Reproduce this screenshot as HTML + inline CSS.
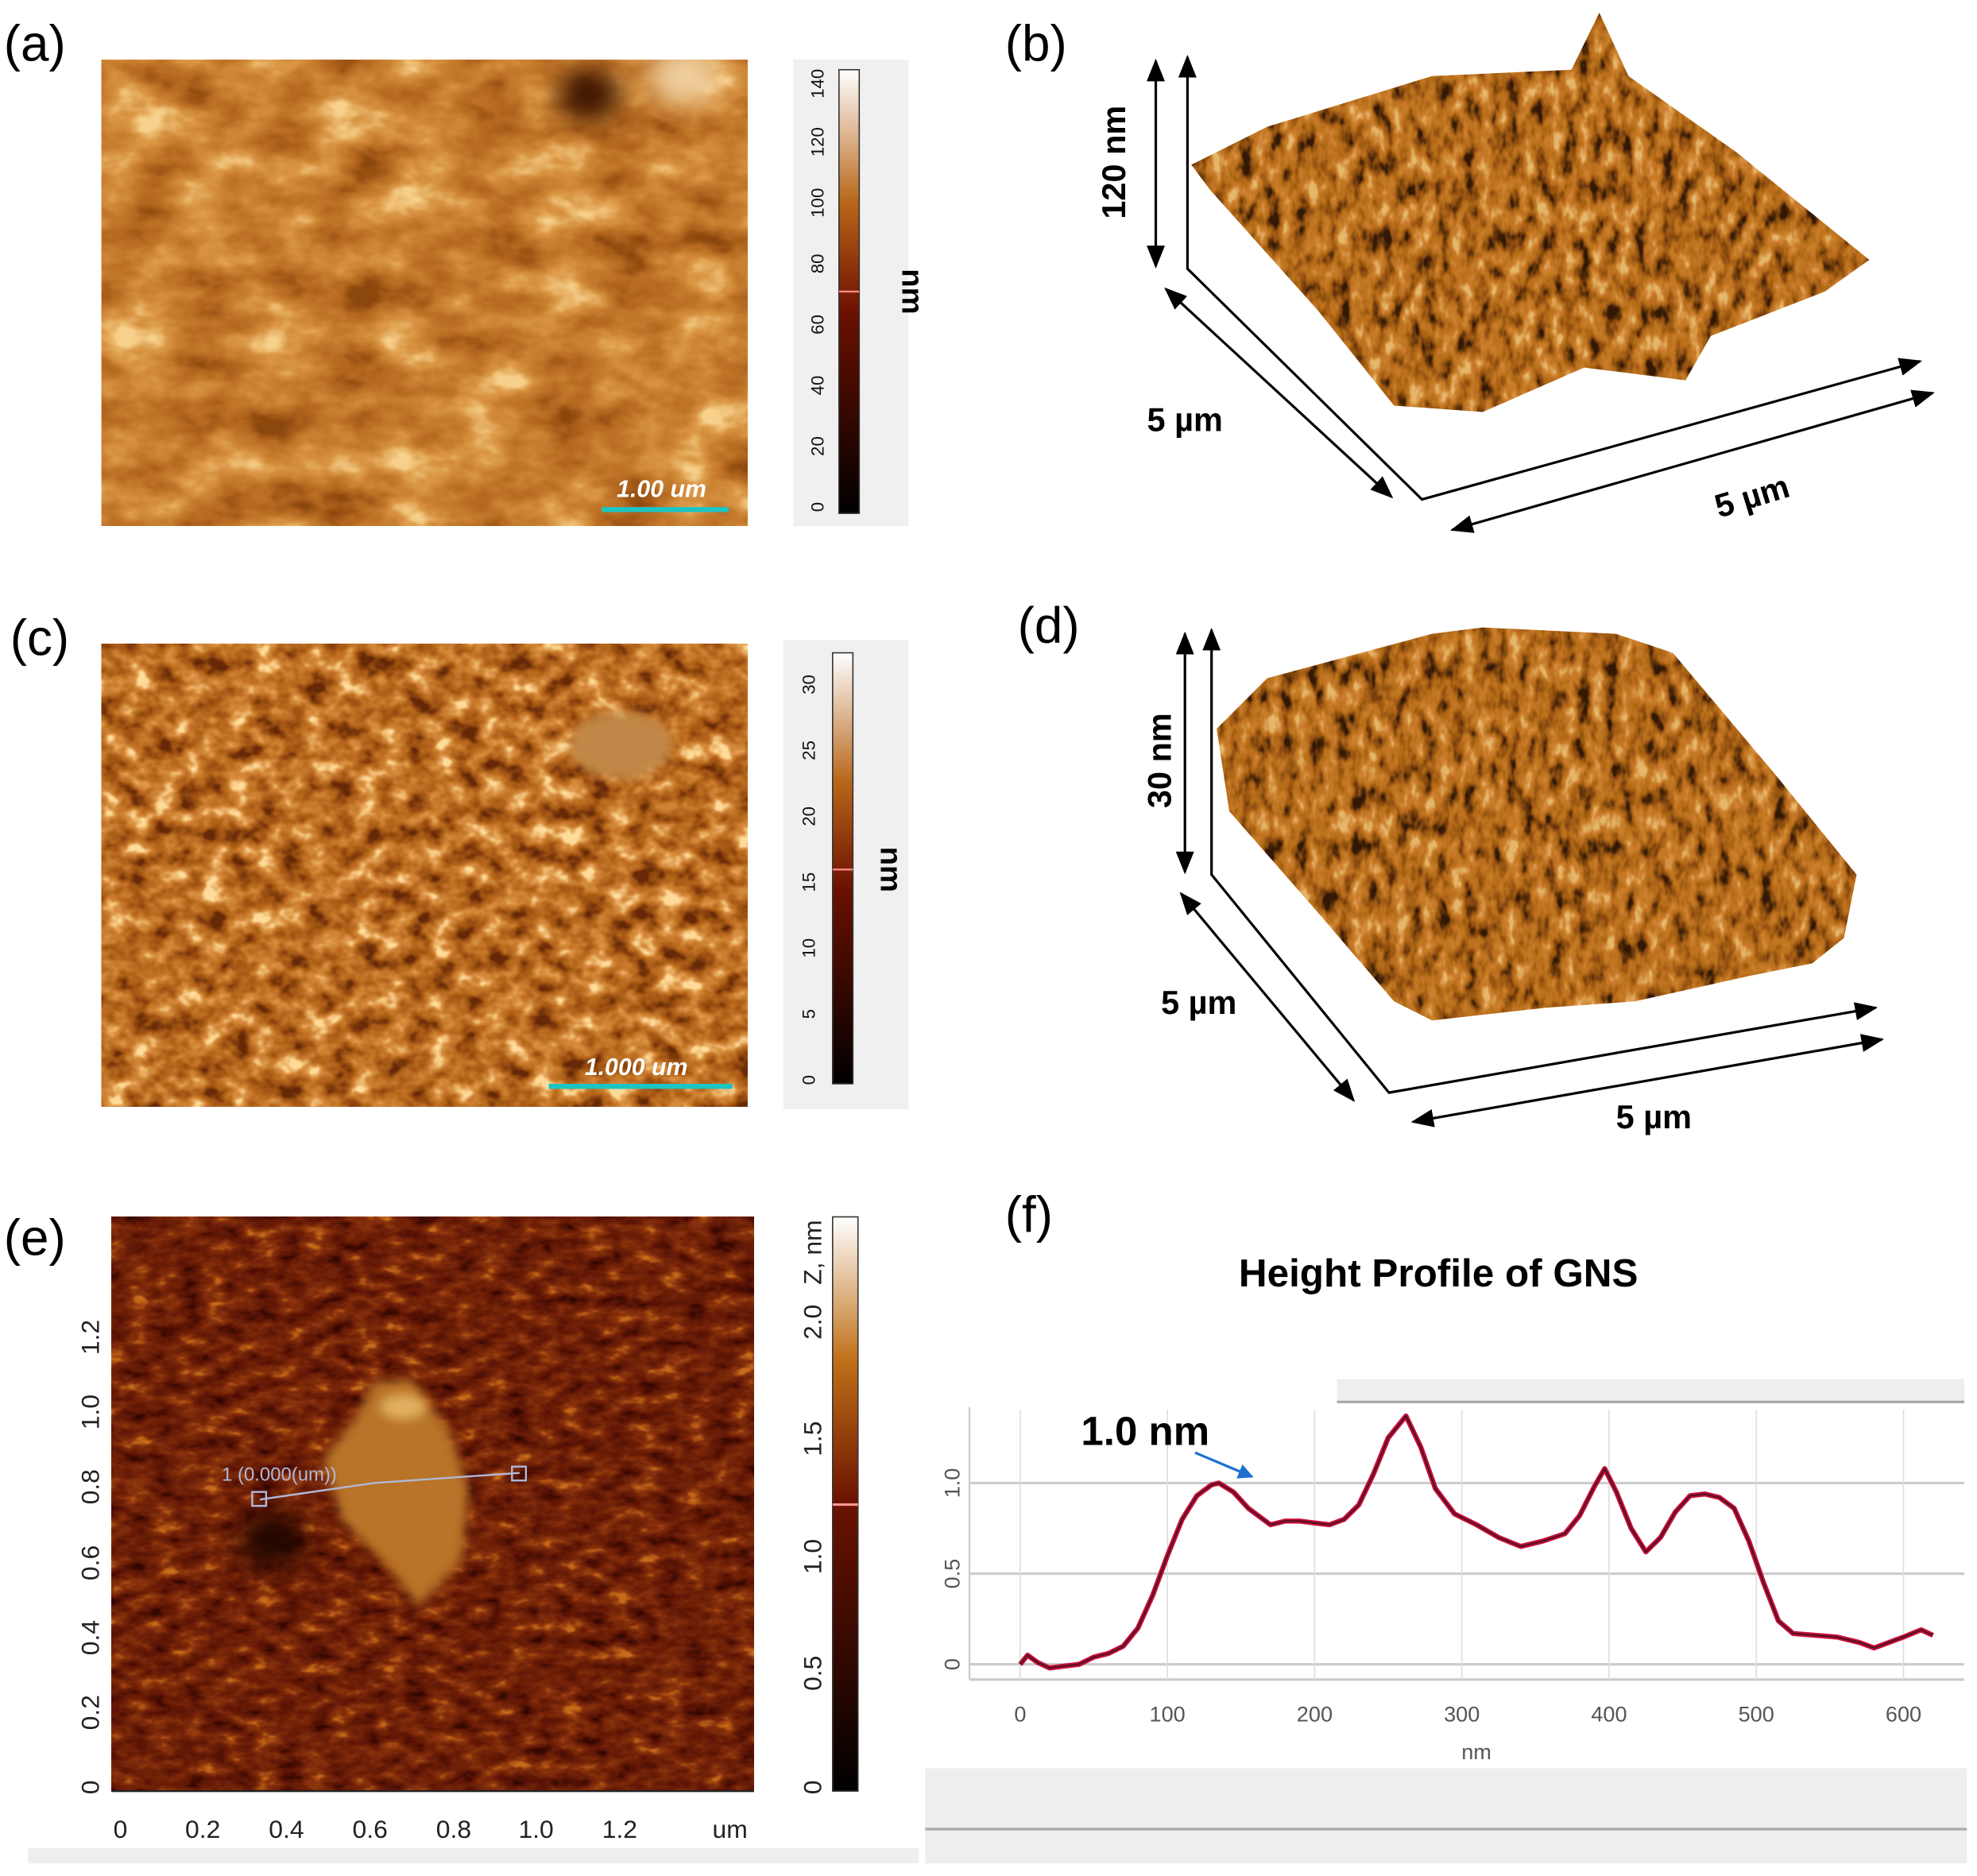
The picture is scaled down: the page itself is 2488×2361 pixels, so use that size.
<!DOCTYPE html>
<html><head><meta charset="utf-8"><style>
html,body{margin:0;padding:0;background:#fff;}
svg{display:block;}
text{font-family:"Liberation Sans",sans-serif;}
filter{color-interpolation-filters:sRGB;}
</style></head><body>
<svg width="2488" height="2361" viewBox="0 0 1560 1480" preserveAspectRatio="none" xmlns="http://www.w3.org/2000/svg">
<defs>
<filter id="afmA" x="0" y="0" width="100%" height="100%" color-interpolation-filters="sRGB">
<feTurbulence type="fractalNoise" baseFrequency="0.018 0.03" numOctaves="4" seed="3"/>
<feColorMatrix type="matrix" values="1 0 0 0 0 1 0 0 0 0 1 0 0 0 0 0 0 0 0 1"/>
<feComponentTransfer><feFuncR type="linear" slope="1.6" intercept="-0.3"/><feFuncG type="linear" slope="1.6" intercept="-0.3"/><feFuncB type="linear" slope="1.6" intercept="-0.3"/></feComponentTransfer>
<feComponentTransfer><feFuncR type="table" tableValues="0.55 0.7 0.78 0.86 0.97"/><feFuncG type="table" tableValues="0.28 0.4 0.49 0.6 0.82"/><feFuncB type="table" tableValues="0.05 0.12 0.18 0.28 0.55"/><feFuncA type="table" tableValues="1 1"/></feComponentTransfer>
</filter>
<filter id="afmC" x="0" y="0" width="100%" height="100%" color-interpolation-filters="sRGB">
<feTurbulence type="fractalNoise" baseFrequency="0.05 0.06" numOctaves="3" seed="7"/>
<feColorMatrix type="matrix" values="1 0 0 0 0 1 0 0 0 0 1 0 0 0 0 0 0 0 0 1"/>
<feComponentTransfer><feFuncR type="linear" slope="1.8" intercept="-0.4"/><feFuncG type="linear" slope="1.8" intercept="-0.4"/><feFuncB type="linear" slope="1.8" intercept="-0.4"/></feComponentTransfer>
<feComponentTransfer><feFuncR type="table" tableValues="0.4 0.62 0.74 0.85 1"/><feFuncG type="table" tableValues="0.16 0.32 0.43 0.56 0.86"/><feFuncB type="table" tableValues="0.03 0.07 0.13 0.25 0.6"/><feFuncA type="table" tableValues="1 1"/></feComponentTransfer>
</filter>
<filter id="afmE" x="0" y="0" width="100%" height="100%" color-interpolation-filters="sRGB">
<feTurbulence type="fractalNoise" baseFrequency="0.05 0.09" numOctaves="3" seed="11"/>
<feColorMatrix type="matrix" values="1 0 0 0 0 1 0 0 0 0 1 0 0 0 0 0 0 0 0 1"/>
<feComponentTransfer><feFuncR type="linear" slope="1.5" intercept="-0.25"/><feFuncG type="linear" slope="1.5" intercept="-0.25"/><feFuncB type="linear" slope="1.5" intercept="-0.25"/></feComponentTransfer>
<feComponentTransfer><feFuncR type="table" tableValues="0.2 0.36 0.44 0.54 0.78"/><feFuncG type="table" tableValues="0.03 0.08 0.13 0.2 0.42"/><feFuncB type="table" tableValues="0 0.02 0.03 0.05 0.1"/><feFuncA type="table" tableValues="1 1"/></feComponentTransfer>
</filter>
<filter id="afm3d" x="0" y="0" width="100%" height="100%" color-interpolation-filters="sRGB">
<feTurbulence type="fractalNoise" baseFrequency="0.09 0.05" numOctaves="3" seed="5"/>
<feColorMatrix type="matrix" values="1 0 0 0 0 1 0 0 0 0 1 0 0 0 0 0 0 0 0 1"/>
<feComponentTransfer><feFuncR type="linear" slope="1.8" intercept="-0.4"/><feFuncG type="linear" slope="1.8" intercept="-0.4"/><feFuncB type="linear" slope="1.8" intercept="-0.4"/></feComponentTransfer>
<feComponentTransfer><feFuncR type="table" tableValues="0.2 0.55 0.72 0.8 0.9"/><feFuncG type="table" tableValues="0.1 0.3 0.43 0.5 0.72"/><feFuncB type="table" tableValues="0.02 0.06 0.1 0.18 0.42"/><feFuncA type="table" tableValues="1 1"/></feComponentTransfer>
</filter>
<filter id="blur6" x="-100%" y="-100%" width="300%" height="300%"><feGaussianBlur stdDeviation="10"/></filter>
<filter id="blur3" x="-50%" y="-50%" width="200%" height="200%"><feGaussianBlur stdDeviation="4"/></filter>
<linearGradient id="cbA" x1="0" y1="1" x2="0" y2="0"><stop offset="0" stop-color="#000"/><stop offset="0.45" stop-color="#6a1000"/><stop offset="0.7" stop-color="#b8661a"/><stop offset="1" stop-color="#fff"/></linearGradient>
<linearGradient id="cbE" x1="0" y1="1" x2="0" y2="0"><stop offset="0" stop-color="#000"/><stop offset="0.5" stop-color="#6a1200"/><stop offset="0.75" stop-color="#c07018"/><stop offset="1" stop-color="#fff"/></linearGradient>
<clipPath id="clipB"><polygon points="940,130 1000,100 1130,60 1240,55 1262,10 1285,60 1370,120 1475,205 1440,230 1350,265 1330,300 1250,290 1170,325 1100,320 1040,245 955,150"/></clipPath>
<clipPath id="clipD"><polygon points="960,575 1000,535 1130,500 1170,495 1275,500 1320,515 1400,610 1465,690 1455,740 1430,760 1380,770 1290,790 1220,795 1130,805 1100,790 1040,720 970,640"/></clipPath>
<marker id="ah" viewBox="0 0 10 10" refX="9" refY="5" markerWidth="9" markerHeight="9" orient="auto-start-reverse"><path d="M0,1 L10,5 L0,9 z" fill="#000"/></marker>
<marker id="ahB" viewBox="0 0 10 10" refX="9" refY="5" markerWidth="6" markerHeight="6" orient="auto"><path d="M0,0 L10,5 L0,10 z" fill="#1f6fd0"/></marker>
</defs>

<g font-size="40">
<text x="3" y="48">(a)</text>
<text x="793" y="48">(b)</text>
<text x="8" y="517">(c)</text>
<text x="803" y="507">(d)</text>
<text x="3" y="990">(e)</text>
<text x="793" y="972">(f)</text>
</g>

<g>
<svg x="80" y="47" width="510" height="368" overflow="hidden">
<rect x="0" y="0" width="510" height="368" filter="url(#afmA)"/>
<ellipse cx="385" cy="28" rx="25" ry="20" fill="#3a1500" filter="url(#blur6)"/>
<ellipse cx="460" cy="13" rx="28" ry="22" fill="#f0d0a0" filter="url(#blur6)"/>
</svg>
<line x1="475" y1="402" x2="575" y2="402" stroke="#1cc4c4" stroke-width="4"/>
<text x="522" y="392" fill="#fff" font-size="19" font-weight="bold" font-style="italic" text-anchor="middle">1.00 um</text>
</g>
<g>
<rect x="626" y="47" width="91" height="368" fill="#f0f0f0"/>
<rect x="662" y="55" width="16" height="350" fill="url(#cbA)" stroke="#333" stroke-width="1"/>
<line x1="662" y1="230" x2="678" y2="230" stroke="#f88" stroke-width="1.5"/>
<g font-size="14" fill="#111">
<text transform="translate(650,400) rotate(-90)" text-anchor="middle">0</text>
<text transform="translate(650,352) rotate(-90)" text-anchor="middle">20</text>
<text transform="translate(650,304) rotate(-90)" text-anchor="middle">40</text>
<text transform="translate(650,256) rotate(-90)" text-anchor="middle">60</text>
<text transform="translate(650,208) rotate(-90)" text-anchor="middle">80</text>
<text transform="translate(650,160) rotate(-90)" text-anchor="middle">100</text>
<text transform="translate(650,112) rotate(-90)" text-anchor="middle">120</text>
<text transform="translate(650,66) rotate(-90)" text-anchor="middle">140</text>
</g>
<text transform="translate(712,230) rotate(90)" font-size="24" font-weight="bold" text-anchor="middle">nm</text>
</g>

<g>
<rect x="930" y="5" width="560" height="330" filter="url(#afm3d)" clip-path="url(#clipB)"/>
<line x1="912" y1="48" x2="912" y2="210" stroke="#000" stroke-width="2" marker-start="url(#ah)" marker-end="url(#ah)"/>
<polyline points="937,45 937,212 1122,394 1515,285" fill="none" stroke="#000" stroke-width="2" marker-start="url(#ah)" marker-end="url(#ah)"/>
<line x1="920" y1="228" x2="1098" y2="392" stroke="#000" stroke-width="2" marker-start="url(#ah)" marker-end="url(#ah)"/>
<line x1="1146" y1="418" x2="1525" y2="310" stroke="#000" stroke-width="2" marker-start="url(#ah)" marker-end="url(#ah)"/>
<text transform="translate(888,128) rotate(-90)" font-size="26" font-weight="bold" text-anchor="middle">120 nm</text>
<text x="935" y="340" font-size="26" font-weight="bold" text-anchor="middle">5 µm</text>
<text transform="translate(1385,400) rotate(-17)" font-size="26" font-weight="bold" text-anchor="middle">5 µm</text>
</g>

<g>
<rect x="80" y="508" width="510" height="365" filter="url(#afmC)"/>
<ellipse cx="490" cy="588" rx="40" ry="26" fill="#c08848" filter="url(#blur3)"/>
<line x1="433" y1="857" x2="578" y2="857" stroke="#1cc4c4" stroke-width="4"/>
<text x="502" y="848" fill="#fff" font-size="19" font-weight="bold" font-style="italic" text-anchor="middle">1.000 um</text>
</g>
<g>
<rect x="618" y="505" width="99" height="370" fill="#f0f0f0"/>
<rect x="657" y="515" width="16" height="340" fill="url(#cbA)" stroke="#333" stroke-width="1"/>
<line x1="657" y1="686" x2="673" y2="686" stroke="#f88" stroke-width="1.5"/>
<g font-size="14" fill="#111">
<text transform="translate(643,852) rotate(-90)" text-anchor="middle">0</text>
<text transform="translate(643,800) rotate(-90)" text-anchor="middle">5</text>
<text transform="translate(643,748) rotate(-90)" text-anchor="middle">10</text>
<text transform="translate(643,696) rotate(-90)" text-anchor="middle">15</text>
<text transform="translate(643,644) rotate(-90)" text-anchor="middle">20</text>
<text transform="translate(643,592) rotate(-90)" text-anchor="middle">25</text>
<text transform="translate(643,540) rotate(-90)" text-anchor="middle">30</text>
</g>
<text transform="translate(695,686) rotate(90)" font-size="24" font-weight="bold" text-anchor="middle">nm</text>
</g>

<g>
<rect x="950" y="490" width="530" height="330" filter="url(#afm3d)" clip-path="url(#clipD)"/>
<line x1="935" y1="500" x2="935" y2="688" stroke="#000" stroke-width="2" marker-start="url(#ah)" marker-end="url(#ah)"/>
<polyline points="956,497 956,690 1096,862 1480,795" fill="none" stroke="#000" stroke-width="2" marker-start="url(#ah)" marker-end="url(#ah)"/>
<line x1="932" y1="705" x2="1068" y2="868" stroke="#000" stroke-width="2" marker-start="url(#ah)" marker-end="url(#ah)"/>
<line x1="1115" y1="885" x2="1485" y2="820" stroke="#000" stroke-width="2" marker-start="url(#ah)" marker-end="url(#ah)"/>
<text transform="translate(924,600) rotate(-90)" font-size="26" font-weight="bold" text-anchor="middle">30 nm</text>
<text x="946" y="800" font-size="26" font-weight="bold" text-anchor="middle">5 µm</text>
<text x="1305" y="890" font-size="26" font-weight="bold" text-anchor="middle">5 µm</text>
</g>

<g>
<rect x="88" y="960" width="507" height="453" filter="url(#afmE)"/>
<polygon points="295,1090 325,1088 355,1130 370,1175 365,1230 330,1268 310,1240 270,1200 255,1150 280,1120" fill="#b87428" filter="url(#blur3)"/>
<ellipse cx="318" cy="1110" rx="18" ry="10" fill="#e0b060" filter="url(#blur3)"/>
<ellipse cx="215" cy="1215" rx="25" ry="22" fill="#200600" filter="url(#blur6)"/>
<polyline points="205,1183 295,1170 410,1162" fill="none" stroke="#b0b8d8" stroke-width="1.5"/>
<rect x="199" y="1177" width="11" height="11" fill="none" stroke="#b0b8d8" stroke-width="1.5"/>
<rect x="404" y="1157" width="11" height="11" fill="none" stroke="#b0b8d8" stroke-width="1.5"/>
<text x="175" y="1168" font-size="15" fill="#b0b8d8">1 (0.000(um))</text>
<line x1="88" y1="1413" x2="595" y2="1413" stroke="#222" stroke-width="1.5"/>
<g font-size="20" fill="#222">
<text x="95" y="1450" text-anchor="middle">0</text>
<text x="160" y="1450" text-anchor="middle">0.2</text>
<text x="226" y="1450" text-anchor="middle">0.4</text>
<text x="292" y="1450" text-anchor="middle">0.6</text>
<text x="358" y="1450" text-anchor="middle">0.8</text>
<text x="423" y="1450" text-anchor="middle">1.0</text>
<text x="489" y="1450" text-anchor="middle">1.2</text>
<text x="576" y="1450" text-anchor="middle">um</text>
<text transform="translate(78,1410) rotate(-90)" text-anchor="middle">0</text>
<text transform="translate(78,1351) rotate(-90)" text-anchor="middle">0.2</text>
<text transform="translate(78,1292) rotate(-90)" text-anchor="middle">0.4</text>
<text transform="translate(78,1233) rotate(-90)" text-anchor="middle">0.6</text>
<text transform="translate(78,1173) rotate(-90)" text-anchor="middle">0.8</text>
<text transform="translate(78,1114) rotate(-90)" text-anchor="middle">1.0</text>
<text transform="translate(78,1055) rotate(-90)" text-anchor="middle">1.2</text>
</g>
<rect x="22" y="1458" width="703" height="12" fill="#eee"/>
</g>
<g>
<rect x="657" y="960" width="20" height="453" fill="url(#cbE)" stroke="#333" stroke-width="1"/>
<line x1="657" y1="1187" x2="677" y2="1187" stroke="#f99" stroke-width="2"/>
<g font-size="20" fill="#222">
<text transform="translate(648,1410) rotate(-90)" text-anchor="middle">0</text>
<text transform="translate(648,1320) rotate(-90)" text-anchor="middle">0.5</text>
<text transform="translate(648,1228) rotate(-90)" text-anchor="middle">1.0</text>
<text transform="translate(648,1135) rotate(-90)" text-anchor="middle">1.5</text>
<text transform="translate(648,1043) rotate(-90)" text-anchor="middle">2.0</text>
<text transform="translate(648,988) rotate(-90)" text-anchor="middle">Z, nm</text>
</g>
</g>

<g>
<text x="1135" y="1015" font-size="31" font-weight="bold" text-anchor="middle">Height Profile of GNS</text>
<rect x="1055" y="1088" width="495" height="17" fill="#eee"/>
<line x1="1055" y1="1106" x2="1550" y2="1106" stroke="#aaa" stroke-width="2"/>
<rect x="730" y="1395" width="822" height="75" fill="#eee"/>
<line x1="730" y1="1443" x2="1552" y2="1443" stroke="#aaa" stroke-width="2"/>
<line x1="765" y1="1110" x2="765" y2="1325" stroke="#ccc" stroke-width="1.5"/>
<line x1="765" y1="1325" x2="1550" y2="1325" stroke="#ccc" stroke-width="2"/>
<g id="gridF"></g>
<g id="ticksF" font-size="17" fill="#555"></g>
<text x="1165" y="1388" font-size="17" fill="#555" text-anchor="middle">nm</text>
<path id="lineF" fill="none" stroke="#c8103c" stroke-width="4" stroke-linejoin="round"/>
<path id="lineF2" fill="none" stroke="#5a0f22" stroke-width="1.5" stroke-linejoin="round"/>
<text x="853" y="1140" font-size="32" font-weight="bold">1.0 nm</text>
<line x1="943" y1="1146" x2="988" y2="1165" stroke="#1f6fd0" stroke-width="2" marker-end="url(#ahB)"/>
</g>
</svg>
<script>
const xNm = [0,5,12,20,30,40,50,60,70,80,90,100,110,120,130,135,145,155,170,180,190,200,210,220,230,240,250,262,272,282,295,310,325,340,355,370,380,390,397,405,415,425,435,445,455,465,475,485,495,505,515,525,540,555,570,580,590,600,612,620];
const hNm = [0,0.05,0.01,-0.02,-0.01,0.0,0.04,0.06,0.1,0.2,0.38,0.6,0.8,0.93,0.99,1.0,0.95,0.86,0.77,0.79,0.79,0.78,0.77,0.8,0.88,1.05,1.25,1.37,1.2,0.97,0.83,0.77,0.7,0.65,0.68,0.72,0.82,0.98,1.08,0.95,0.75,0.62,0.7,0.84,0.93,0.94,0.92,0.86,0.68,0.45,0.24,0.17,0.16,0.15,0.12,0.09,0.12,0.15,0.19,0.16];
const xTicks = [0,100,200,300,400,500,600];
const yTicks = [0,0.5,1.0];
const yTickLabels = ["0","0.5","1.0"];
function sx(v){return 805 + v*(1502-805)/600;}
function sy(v){return 1313 - v*(1313-1170)/1.0;}
const grid=document.getElementById('gridF'), ticks=document.getElementById('ticksF');
const NS='http://www.w3.org/2000/svg';
yTicks.forEach((t,i)=>{
  const l=document.createElementNS(NS,'line');
  
  
  l.setAttribute('x1',765);l.setAttribute('x2',1550);l.setAttribute('y1',sy(t));l.setAttribute('y2',sy(t));
  l.setAttribute('stroke','#ccc');l.setAttribute('stroke-width','2');grid.appendChild(l);
  const tx=document.createElementNS(NS,'text');
  
  
  tx.setAttribute('transform','translate('+757+','+sy(t)+') rotate(-90)');tx.setAttribute('text-anchor','middle');
  tx.textContent=yTickLabels[i];ticks.appendChild(tx);
});
xTicks.forEach(t=>{
  const l=document.createElementNS(NS,'line');
  
  
  l.setAttribute('x1',sx(t));l.setAttribute('x2',sx(t));l.setAttribute('y1',1112);l.setAttribute('y2',1325);
  l.setAttribute('stroke','#ddd');l.setAttribute('stroke-width','1');grid.appendChild(l);
  const tx=document.createElementNS(NS,'text');
  
  
  tx.setAttribute('x',sx(t));tx.setAttribute('y',1358);tx.setAttribute('text-anchor','middle');
  tx.textContent=t;ticks.appendChild(tx);
});
let d='';
xNm.forEach((x,i)=>{d+=(i?'L':'M')+sx(x).toFixed(1)+','+sy(hNm[i]).toFixed(1);});
document.getElementById('lineF').setAttribute('d',d);
document.getElementById('lineF2').setAttribute('d',d);
</script>
</body></html>
